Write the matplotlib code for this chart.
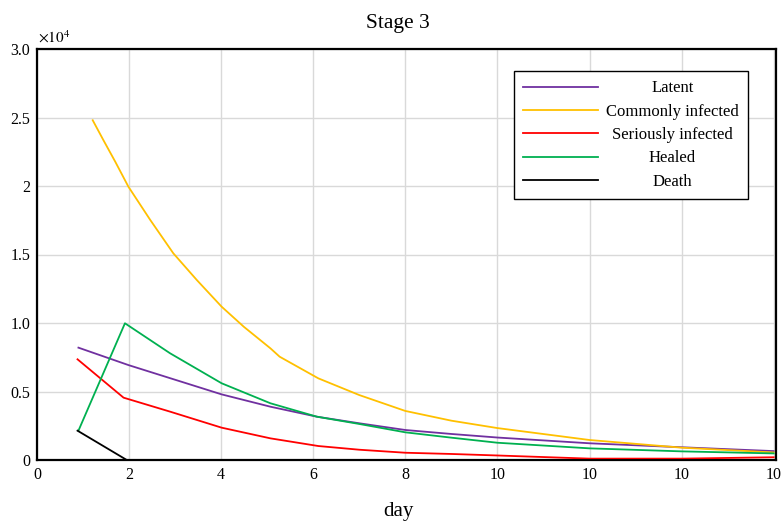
import matplotlib
matplotlib.use("Agg")
import matplotlib.pyplot as plt

plt.rcParams['font.family'] = ['Liberation Serif', 'DejaVu Serif']
plt.rcParams['mathtext.fontset'] = 'stix'

# Data
latent_x = [0.9, 1.985, 4.01, 5.07, 6.08, 7, 8, 9, 10, 12, 14, 16]
latent_y = [8200, 6930, 4790, 3890, 3160, 2680, 2190, 1900, 1640, 1220, 930, 650]

common_x = [1.21, 1.44, 1.70, 1.985, 2.46, 2.96, 3.47, 4.01, 4.49, 5.07, 5.27,
            6.11, 7, 8, 9, 10, 12, 14, 16]
common_y = [24800, 23360, 21770, 19950, 17520, 15090, 13140, 11190, 9730, 8150, 7540,
            5960, 4740, 3580, 2870, 2330, 1460, 900, 550]

serious_x = [0.88, 1.88, 2.89, 4.01, 5.07, 6.11, 7, 8, 9, 10, 12, 14, 16]
serious_y = [7350, 4550, 3530, 2360, 1580, 1020, 750, 530, 440, 330, 100, 100, 200]

healed_x = [0.9, 1.91, 2.89, 4.01, 5.07, 6.08, 7, 8, 9, 10, 12, 14, 16]
healed_y = [2140, 9980, 7790, 5600, 4140, 3160, 2630, 2020, 1630, 1260, 850, 630, 480]

death_x = [0.88, 1.95, 4, 8, 12, 16]
death_y = [2140, 0, 0, 0, 0, 0]

series_labels = ['Latent', 'Commonly infected', 'Seriously infected', 'Healed', 'Death']
series_colors = ['#7030A0', '#FFC000', '#FF0000', '#00B050', '#000000']

xtick_pos = [0, 2, 4, 6, 8, 10, 12, 14, 16]
xtick_labels = ['0', '2', '4', '6', '8', '10', '10', '10', '10']
ytick_pos = [0, 5000, 10000, 15000, 20000, 25000, 30000]
ytick_labels = ['0', '0.5', '1.0', '1.5', '2', '2.5', '3.0']

fig = plt.figure(figsize=(7.82, 5.21), dpi=100)
ax = fig.add_axes([37/782, 1-460/521, (776-37)/782, (460-49)/521])

data = [(latent_x, latent_y), (common_x, common_y), (serious_x, serious_y),
        (healed_x, healed_y), (death_x, death_y)]
handles = []
for (xs, ys), lab, col in zip(data, series_labels, series_colors):
    h, = ax.plot(xs, ys, color=col, lw=1.3, label=lab, zorder=3)
    handles.append(h)

ax.set_xlim(0, 16.05)
ax.set_ylim(0, 30000)
ax.set_xticks(xtick_pos)
ax.set_xticklabels(xtick_labels)
ax.set_yticks(ytick_pos)
ax.set_yticklabels(ytick_labels)
ax.tick_params(length=0, labelsize=11.5, pad=5)
ax.grid(True, color='#D9D9D9', lw=1)
ax.set_axisbelow(True)
for s in ax.spines.values():
    s.set_linewidth(1.6)
    s.set_color('black')

ax.set_title('Stage 3', fontsize=15.5, pad=15, x=0.4885)
ax.set_xlabel('day', fontsize=15, labelpad=14, x=0.4885)
ax.text(0.002, 1.008, r'$\times10^{4}$', transform=ax.transAxes, fontsize=11,
        ha='left', va='bottom')

leg = ax.legend(handles=handles, loc='upper right', bbox_to_anchor=(0.962, 0.946),
                borderaxespad=0, fancybox=False, framealpha=1, edgecolor='black',
                fontsize=12, handlelength=4.5, handletextpad=0.5, labelspacing=0.44,
                borderpad=0.55)
leg.get_frame().set_linewidth(1.0)

fig.canvas.draw()
texts = leg.get_texts()
widths = [t.get_window_extent().width for t in texts]
maxw = max(widths)
for t, w in zip(texts, widths):
    t.set_x((maxw - w) / 2)

fig.savefig('out.png', dpi=100)
